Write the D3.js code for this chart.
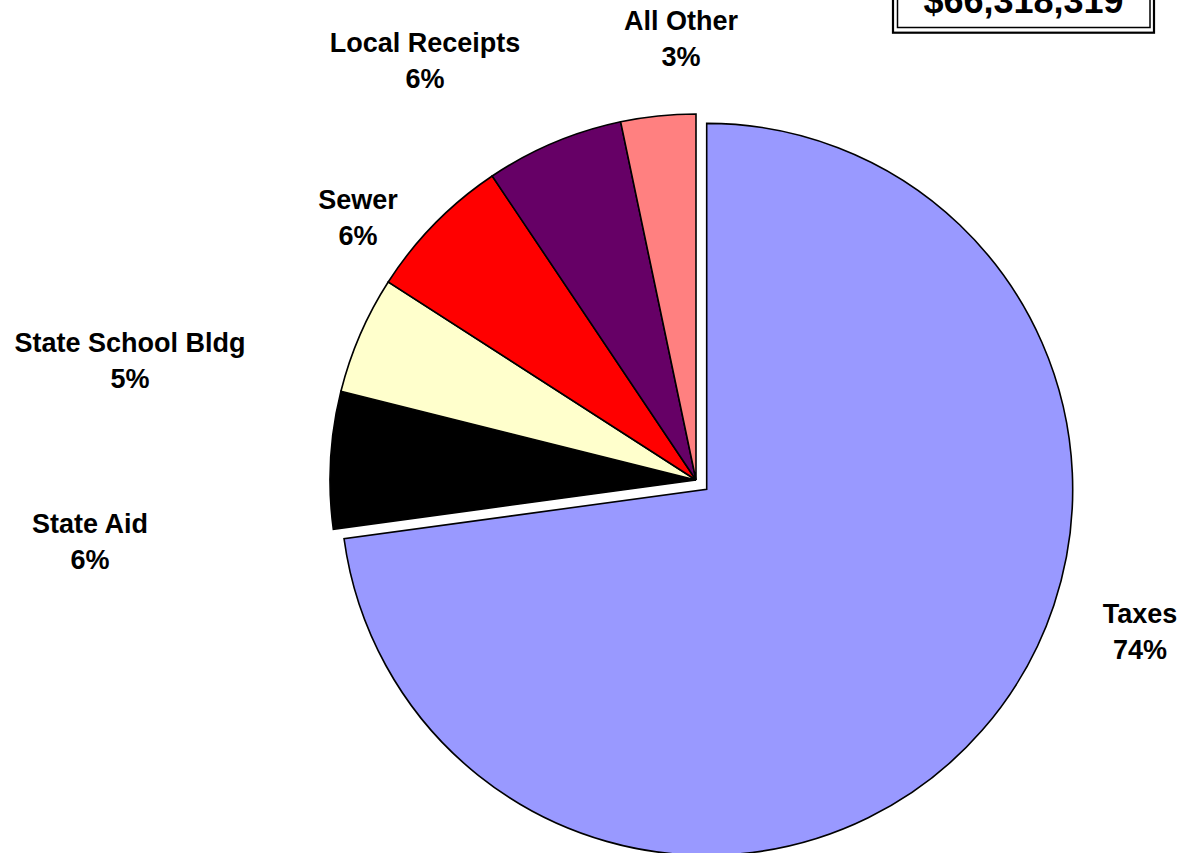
<!DOCTYPE html>
<meta charset="utf-8">
<style>
body { margin: 0; background: #fff; }
text {
  font-family: "Liberation Sans", Arial, sans-serif;
  font-weight: bold;
}
.slices path {
  stroke: #000;
  stroke-width: 1.6px;
}
</style>
<svg width="1196" height="853"></svg>
<script src="https://d3js.org/d3.v7.min.js"></script>
<script>

// revenue sources, share of total
var categories = ["Taxes", "State Aid", "State School Bldg", "Sewer", "Local Receipts", "All Other"];
var shares     = [72.85, 6.05, 5.2, 6.5, 6.1, 3.3];
var shownPct   = ["74%", "6%", "5%", "6%", "6%", "3%"];
var colors     = ["#9999ff", "#000000", "#ffffcc", "#ff0000", "#660066", "#ff8080"];
var totalLabel = "$66,318,319";

var svg = d3.select("svg"),
    width = +svg.attr("width"),
    height = +svg.attr("height");

var cx = 696, cy = 480, radius = 366,
    explode = 14.2;   // Taxes slice is pulled out

// label anchors (centre x, first baseline), one per slice
var labelAt = [[1140, 623], [90, 533], [130, 352], [358, 209], [425, 52], [681, 30]];

var pie = d3.pie().sort(null).startAngle(0).endAngle(2 * Math.PI);
var arc = d3.arc().innerRadius(0).outerRadius(radius);

var arcs = pie(shares);

var slices = svg.append("g")
    .attr("class", "slices")
    .attr("transform", "translate(" + cx + "," + cy + ")")
  .selectAll("path")
  .data(arcs)
  .enter().append("path")
    .attr("fill", function(d, i) { return colors[i]; })
    .attr("d", arc)
    .attr("transform", function(d, i) {
      if (i !== 0) return null;
      var a = (d.startAngle + d.endAngle) / 2;
      return "translate(" + (explode * Math.sin(a)) + "," + (-explode * Math.cos(a)) + ")";
    });

// data labels
var labels = svg.append("g")
  .selectAll("text")
  .data(categories)
  .enter().append("text")
    .attr("text-anchor", "middle")
    .style("font-size", "27px")
    .attr("fill", "#000");

labels.append("tspan")
    .attr("x", function(d, i) { return labelAt[i][0]; })
    .attr("y", function(d, i) { return labelAt[i][1]; })
    .text(function(d) { return d; });

labels.append("tspan")
    .attr("x", function(d, i) { return labelAt[i][0]; })
    .attr("y", function(d, i) { return labelAt[i][1] + 36; })
    .text(function(d, i) { return shownPct[i]; });

// total box (top cut off), double border
var box = svg.append("g");
box.append("rect")
    .attr("x", 893).attr("y", -20)
    .attr("width", 261).attr("height", 52.7)
    .attr("fill", "#fff")
    .attr("stroke", "#000").attr("stroke-width", 2.2);
box.append("rect")
    .attr("x", 897.5).attr("y", -20)
    .attr("width", 252.5).attr("height", 47.5)
    .attr("fill", "none")
    .attr("stroke", "#000").attr("stroke-width", 1.5);
box.append("text")
    .attr("x", 1023.5).attr("y", 12.5)
    .attr("text-anchor", "middle")
    .style("font-size", "36px")
    .text(totalLabel);

</script>
